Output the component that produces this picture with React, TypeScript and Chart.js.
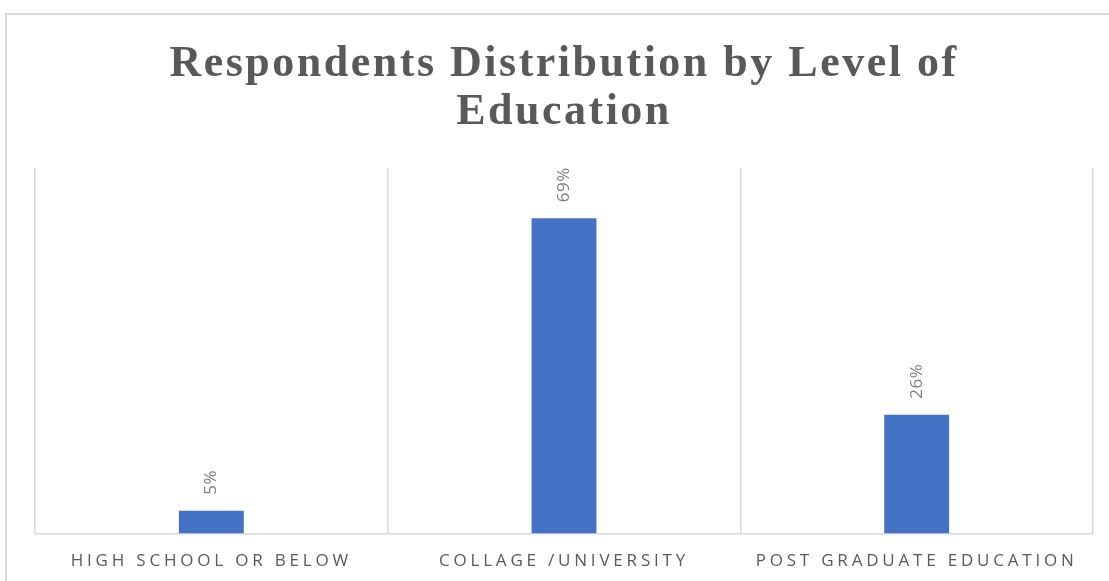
import React, { useEffect, useRef } from "react";
import { Chart, registerables } from "chart.js";

Chart.register(...registerables);

const categories = ["HIGH SCHOOL OR BELOW", "COLLAGE /UNIVERSITY", "POST GRADUATE EDUCATION"];
const percentages = [5, 69, 26];
const titleLines = ["Respondents Distribution by Level of", "Education"];
const yMax = 80;

const spacingPlugin = {
  id: "spacingAndLabels",
  beforeDraw(chart: any) {
    chart.ctx.letterSpacing = "2.5px";
  },
  afterDatasetsDraw(chart: any) {
    const ctx = chart.ctx;
    const meta = chart.getDatasetMeta(0);
    ctx.save();
    ctx.letterSpacing = "0.5px";
    ctx.fillStyle = "#808080";
    ctx.font = "17px 'Open Sans'";
    ctx.textAlign = "left";
    ctx.textBaseline = "middle";
    meta.data.forEach((bar: any, i: number) => {
      ctx.save();
      ctx.translate(bar.x, bar.y - 16);
      ctx.rotate(-Math.PI / 2);
      ctx.fillText(percentages[i] + "%", 0, 0);
      ctx.restore();
    });
    ctx.restore();
    ctx.letterSpacing = "3.8px";
  },
  afterDraw(chart: any) {
    chart.ctx.letterSpacing = "0px";
  },
};

export default function App() {
  const ref = useRef<HTMLCanvasElement>(null);
  useEffect(() => {
    if (!ref.current) return;
    const chart = new Chart(ref.current, {
      type: "bar",
      data: {
        labels: categories,
        datasets: [
          {
            data: percentages,
            backgroundColor: "#4472C4",
            categoryPercentage: 1,
            barPercentage: 0.184,
          },
        ],
      },
      options: {
        animation: false,
        responsive: false,
        events: [],
        layout: { padding: { left: 35, right: 16, top: 0, bottom: 12 } },
        plugins: {
          legend: { display: false },
          tooltip: { enabled: false },
          title: {
            display: true,
            text: titleLines,
            color: "#595959",
            font: { family: "'Liberation Serif'", size: 44, weight: "bold", lineHeight: 1.09 },
            padding: { top: 41, bottom: 31 },
          },
        },
        scales: {
          x: {
            grid: { color: "#d9d9d9", offset: true, drawTicks: false, lineWidth: 1.5 },
            border: { color: "#d9d9d9", width: 1.5 },
            ticks: {
              z: 1,
              color: "#595959",
              font: { family: "'Open Sans'", size: 17 },
              padding: 17,
              maxRotation: 0,
              autoSkip: false,
            },
          },
          y: { display: false, min: 0, max: yMax },
        },
      },
      plugins: [spacingPlugin],
    });
    return () => chart.destroy();
  }, []);
  return (
    <div style={{ position: "fixed", left: 0, top: 0, width: 1109, height: 581, overflow: "hidden", background: "#fff" }}>
      <div
        style={{
          position: "absolute",
          left: 5,
          top: 13,
          width: 1200,
          height: 700,
          border: "2px solid #d9d9d9",
          boxSizing: "border-box",
        }}
      />
      <canvas ref={ref} width={1109} height={600} style={{ position: "absolute", left: 0, top: 0 }} />
    </div>
  );
}
